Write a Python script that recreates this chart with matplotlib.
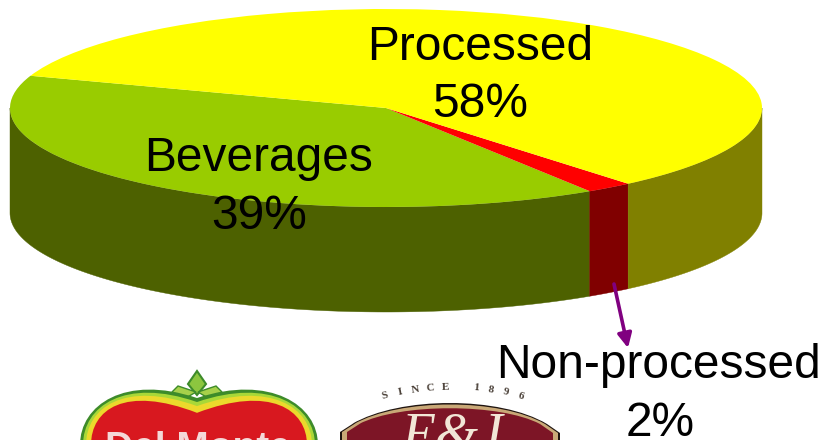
import matplotlib
matplotlib.use("Agg")
import matplotlib.pyplot as plt
import numpy as np
from matplotlib.patches import PathPatch, Polygon
from matplotlib.path import Path

plt.rcParams["font.family"] = ["Liberation Sans", "DejaVu Sans"]

# data, in drawing order round the pie
categories = ["Beverages", "Non-processed", "Processed"]
shares = [39, 2, 58]
top_colors = ["#99cc00", "#ff0000", "#ffff00"]
side_colors = ["#4d6100", "#800000", "#808000"]

W, H = 823, 440
CX, CY = 386, 108      # pie centre in pixels
RX, RY = 376, 99       # ellipse radii in pixels
DEPTH = 105 / RY
START = 161

fig = plt.figure(figsize=(W / 100, H / 100), dpi=100, facecolor="white")

# pie axes: one data unit is one radius, squashed by the axis scales
ax = fig.add_axes([0, 0, 1, 1])
ax.pie(shares, colors=top_colors, startangle=START, counterclock=True,
       wedgeprops={"linewidth": 0})
ax.set_aspect("auto")
ax.set_xlim(-CX / RX, (W - CX) / RX)
ax.set_ylim((CY - H) / RY, CY / RY)
ax.axis("off")

# side wall, only the part of each slice facing the viewer
edges = START + np.cumsum([0] + shares) / sum(shares) * 360
for a0, a1, col in zip(edges[:-1], edges[1:], side_colors):
    for lo, hi in [(180, 360), (540, 720)]:
        a_start, a_end = max(a0, lo), min(a1, hi)
        if a_end <= a_start:
            continue
        t = np.radians(np.linspace(a_start, a_end, 120))
        x, y = np.cos(t), np.sin(t)
        xy = np.r_[np.c_[x, y], np.c_[x, y - DEPTH][::-1]]
        ax.add_patch(Polygon(xy, closed=True, facecolor=col, edgecolor=col,
                             linewidth=0.3, zorder=0.5))

# overlay in pixel coordinates for logos and labels
ov = fig.add_axes([0, 0, 1, 1], facecolor="none")
ov.set_xlim(0, W)
ov.set_ylim(H, 0)
ov.axis("off")


def heart(inset):
    # Del Monte tomato outline
    verts = [(80 + inset, 445), (80 + inset, 405 + inset * 0.4),
             (125, 374 + inset), (197, 398 + inset * 1.35),
             (270, 374 + inset), (318 - inset, 405 + inset * 0.4),
             (318 - inset, 445), (80 + inset, 445)]
    codes = [Path.MOVETO, Path.CURVE4, Path.CURVE4, Path.CURVE4,
             Path.CURVE4, Path.CURVE4, Path.CURVE4, Path.CLOSEPOLY]
    return Path(verts, codes)


ov.add_patch(Polygon([(197, 371), (206, 384), (197, 395), (188, 384)],
                     facecolor="#8cc63f", edgecolor="#3d8b2a", linewidth=1.5))
ov.add_patch(Polygon([(178, 386), (196, 392), (186, 398), (172, 392)],
                     facecolor="#a6d04a", edgecolor="#3d8b2a", linewidth=1))
ov.add_patch(Polygon([(216, 386), (198, 392), (208, 398), (222, 392)],
                     facecolor="#a6d04a", edgecolor="#3d8b2a", linewidth=1))
for inset, col in [(0, "#3d8b2a"), (3, "#a8d838"), (6, "#ecd92c"), (11, "#d8181f")]:
    ov.add_patch(PathPatch(heart(inset), facecolor=col, edgecolor="none"))
ov.text(198, 459, "Del Monte", fontsize=28, fontweight="bold", color="#f4d8d8",
        ha="center", va="baseline", clip_on=True)


def badge(inset):
    # E&J badge outline
    verts = [(340 + inset, 445), (340 + inset, 432), (354 + inset, 423),
             (352 + inset, 424), (400, 396 + inset), (500, 396 + inset),
             (547 - inset, 424), (560 - inset, 433), (560 - inset, 445),
             (340 + inset, 445)]
    codes = [Path.MOVETO, Path.LINETO, Path.LINETO, Path.LINETO,
             Path.CURVE4, Path.CURVE4, Path.CURVE4, Path.LINETO,
             Path.LINETO, Path.CLOSEPOLY]
    return Path(verts, codes)


for inset, col in [(0, "#1f1410"), (2, "#c9a877"), (7, "#7d1526")]:
    ov.add_patch(PathPatch(badge(inset), facecolor=col, edgecolor="none"))
ov.text(452, 452, "E&J", fontsize=40, family="Liberation Serif", style="italic",
        color="#f2e6d6", ha="center", va="baseline")

arc_text = "SINCE 1896"
for i, ch in enumerate(arc_text):
    ang = np.radians(-15.3 + 30.6 * i / (len(arc_text) - 1))
    ov.text(453 + 257 * np.sin(ang), 644 - 257 * np.cos(ang), ch, fontsize=8,
            fontweight="bold", family="Liberation Serif", color="#4a4038",
            rotation=-np.degrees(ang), ha="center", va="center")

# pointer to the small slice
ov.annotate("", xy=(628, 348), xytext=(614, 284),
            arrowprops={"arrowstyle": "-|>,head_width=0.42,head_length=0.85",
                        "color": "#800080", "linewidth": 2.6,
                        "shrinkA": 0, "shrinkB": 0})

label_style = {"fontsize": 34.5, "color": "black", "ha": "center", "va": "baseline"}
ov.text(480, 60, f"{categories[2]}", **label_style)
ov.text(480, 117, f"{shares[2]}%", **label_style)
ov.text(259, 171, f"{categories[0]}", **label_style)
ov.text(259, 229, f"{shares[0]}%", **label_style)
ov.text(659, 378, f"{categories[1]}", **label_style)
ov.text(660, 436, f"{shares[1]}%", **label_style)

fig.savefig("out.png", dpi=100)
